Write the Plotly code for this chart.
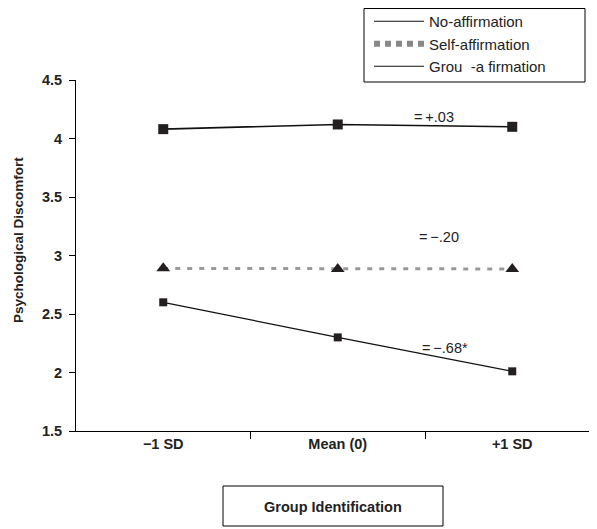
import plotly.graph_objects as go

categories = ["\u22121 SD", "Mean (0)", "+1 SD"]
x_pos = [0, 1, 2]
no_affirmation = [4.08, 4.12, 4.10]
self_affirmation = [2.89, 2.885, 2.885]
group_affirmation = [2.60, 2.30, 2.01]
series_names = ["No-affirmation", "Self-affirmation", "Grou  -a firmation"]
slope_labels = ["=\u2009+.03", "=\u2009\u2212.20", "=\u2009\u2212.68*"]
slope_x = [1.552, 1.58, 1.615]
slope_y = [4.184, 3.158, 2.209]
y_ticks = [1.5, 2, 2.5, 3, 3.5, 4, 4.5]

FONT = "Liberation Sans, Arial, sans-serif"
TXT = "#222222"

# figure geometry (the page adds an 8px body margin)
W, H = 589, 521
L, T, R, B = 68, 72, 0, 98
PW, PH = W - L - R, H - T - B


def px(xf):
    return (xf - L) / PW


def py(yf):
    return 1 - (yf - T) / PH


fig = go.Figure()

fig.add_trace(go.Scatter(x=x_pos, y=no_affirmation, mode="lines+markers",
                         line=dict(color="#111111", width=1.6),
                         marker=dict(symbol="square", size=10, color="#231f20"),
                         showlegend=False))
fig.add_trace(go.Scatter(x=x_pos, y=self_affirmation, mode="lines+markers",
                         line=dict(color="#999999", width=3, dash="5px,7px"),
                         marker=dict(symbol="triangle-up", size=12, color="#231f20"),
                         showlegend=False))
fig.add_trace(go.Scatter(x=x_pos, y=group_affirmation, mode="lines+markers",
                         line=dict(color="#111111", width=1.2),
                         marker=dict(symbol="square", size=8, color="#231f20"),
                         showlegend=False))

# legend-only entries
fig.add_trace(go.Scatter(x=[None], y=[None], mode="lines", name=series_names[0],
                         line=dict(color="#111111", width=1)))
fig.add_trace(go.Scatter(x=[None], y=[None], mode="lines", name=series_names[1],
                         line=dict(color="#888888", width=6, dash="6px,5px")))
fig.add_trace(go.Scatter(x=[None], y=[None], mode="lines", name=series_names[2],
                         line=dict(color="#111111", width=1)))

for lbl, xx, yy in zip(slope_labels, slope_x, slope_y):
    fig.add_annotation(x=xx, y=yy, text=lbl, showarrow=False,
                       xanchor="center", yanchor="middle",
                       font=dict(size=14.5, color=TXT, family=FONT))

# legend frame
fig.add_shape(type="rect", xref="paper", yref="paper",
              x0=px(356), x1=px(577), y0=py(74), y1=py(0.5),
              line=dict(color="black", width=1))

# x-axis title box
fig.add_shape(type="rect", xref="paper", yref="paper",
              x0=px(215), x1=px(435), y0=py(478), y1=py(518),
              line=dict(color="black", width=1))
fig.add_annotation(xref="paper", yref="paper", x=px(325), y=py(499),
                   xanchor="center", yanchor="middle",
                   text="<b>Group Identification</b>", showarrow=False,
                   font=dict(size=14.5, color=TXT, family=FONT))

# y-axis title
fig.add_annotation(xref="paper", yref="paper", x=px(10), y=py(232),
                   xanchor="center", yanchor="middle",
                   text="<b>Psychological Discomfort</b>", showarrow=False,
                   textangle=-90, font=dict(size=13.5, color=TXT, family=FONT))

fig.update_layout(
    width=W, height=H,
    margin=dict(l=L, r=R, t=T, b=B, pad=0, autoexpand=False),
    paper_bgcolor="white", plot_bgcolor="white",
    font=dict(family=FONT, color=TXT),
    legend=dict(xref="paper", yref="paper", x=px(361), y=py(-3),
                xanchor="left", yanchor="top", borderwidth=0,
                font=dict(size=15, family=FONT, color=TXT),
                itemwidth=50, tracegroupgap=0, bgcolor="rgba(0,0,0,0)"),
    xaxis=dict(range=[-0.5, -0.5 + PW / 174.5], tickvals=x_pos,
               ticktext=["<b>%s</b>" % c for c in categories],
               ticks="", showgrid=False, zeroline=False, showline=True,
               linecolor="black", linewidth=1,
               tickfont=dict(size=14.5, family=FONT, color=TXT),
               minor=dict(tickvals=[0.5, 1.5], ticks="outside", ticklen=7,
                          tickcolor="black", showgrid=False)),
    yaxis=dict(range=[1.5, 4.5], tickvals=y_ticks,
               ticktext=["<b>%g</b>" % v for v in y_ticks],
               ticks="outside", ticklen=6, tickcolor="black", showgrid=False,
               zeroline=False, showline=True, linecolor="black", linewidth=1,
               ticklabelstandoff=4,
               tickfont=dict(size=14.5, family=FONT, color=TXT)),
)

fig.write_html("out.html")
